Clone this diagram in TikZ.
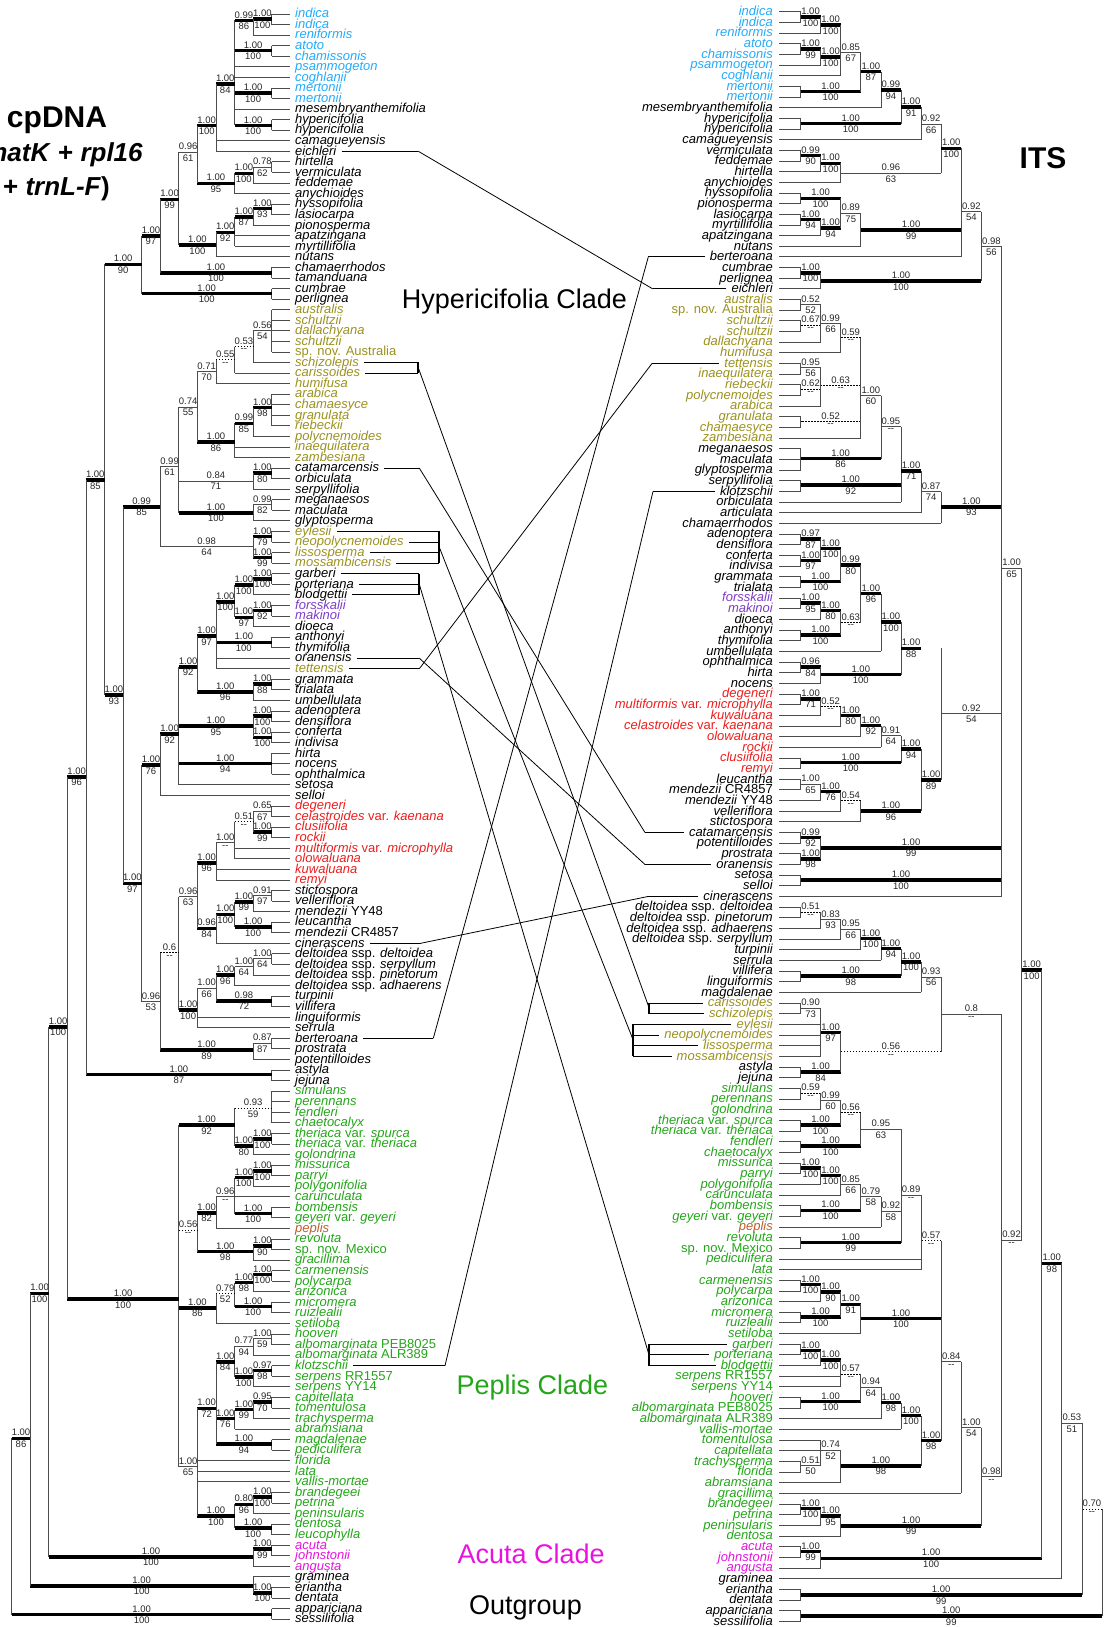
\documentclass[tikz,border=0pt]{standalone}
\usepackage{fontspec}
\setmainfont{Liberation Sans}
\usepackage{etoolbox}
\usetikzlibrary{calc}

\definecolor{xb}{RGB}{35,170,250}
\definecolor{xo}{RGB}{155,145,30}
\definecolor{xp}{RGB}{125,60,200}
\definecolor{xr}{RGB}{235,30,30}
\definecolor{xg}{RGB}{35,165,25}
\definecolor{xn}{RGB}{185,95,45}
\definecolor{xm}{RGB}{230,20,220}
\colorlet{xk}{black}

\tikzset{
  thn/.style={draw=black!70,line width=0.8pt},
  thk/.style={draw=black,line width=3.6pt},
  dsh/.style={draw=black,line width=0.8pt,dash pattern=on 1.5pt off 1.5pt},
  cnx/.style={draw=black,line width=0.8pt},
  brk/.style={draw=black,line width=2pt},
  sup/.style={font=\fontsize{9.5}{9.5}\selectfont,text=black!85,inner sep=0pt},
  taxL/.style={anchor=base west,inner sep=0pt,font=\fontsize{13}{13}\selectfont\itshape},
  taxR/.style={anchor=base east,inner sep=0pt,font=\fontsize{13}{13}\selectfont\itshape},
  big/.style={inner sep=0pt,anchor=base west,font=\fontsize{27}{27}\selectfont},
  ttl/.style={inner sep=0pt,font=\fontsize{30}{30}\selectfont\bfseries},
}

\newcommand\up[1]{\textup{#1}}
% tree frame: x of column 0, column step, y of row 1, row step, x of leaf ends
\newcommand\setT[5]{\def\Tx{#1}\def\Tdx{#2}\def\Ty{#3}\def\Tdy{#4}\def\Tlf{#5}}
\newcommand\upd[1]{\pgfmathsetmacro\Ymn{min(\Ymn,#1)}\pgfmathsetmacro\Ymx{max(\Ymx,#1)}%
  \pgfmathsetmacro\Ysm{\Ysm+#1}\pgfmathsetmacro\Ycn{\Ycn+1}}
\newcommand\dolf[1]{\pgfmathsetmacro\Yy{\Ty+\Tdy*(#1-1)}\upd{\Yy}\draw[thn] (\Nx,\Yy) -- (\Tlf,\Yy);}
\newcommand\dosb[1]{\edef\Yy{\csname ny@#1\endcsname}\upd{\Yy}}
% \nd[stem]{name}{col}{parent col}{leaf rows}{child clades}{y}{above}{below}
\newcommand\nd[9][thn]{%
  \pgfmathsetmacro\Nx{\Tx+\Tdx*#3}\pgfmathsetmacro\Px{\Tx+\Tdx*#4}%
  \def\Ymn{9999}\def\Ymx{-9999}\def\Ysm{0}\def\Ycn{0}%
  \forcsvlist\dolf{#5}\forcsvlist\dosb{#6}%
  \if\relax\detokenize{#7}\relax\pgfmathsetmacro\Ny{\Ysm/\Ycn}\else\def\Ny{#7}\fi
  \expandafter\xdef\csname ny@#2\endcsname{\Ny}%
  \draw[thn] (\Nx,\Ymn) -- (\Nx,\Ymx);
  \draw[#1] (\Px,\Ny) -- (\Nx,\Ny);
  \coordinate (#2) at (\Nx,\Ny);
  \node[sup,anchor=south] at ({(\Px+\Nx)/2},{\Ny-2.2}) {#8};
  \node[sup,anchor=north] at ({(\Px+\Nx)/2},{\Ny+2.2}) {#9};}
% \link{left first}{left last}{right first}{right last}{left bend x}{right bend x}
\newcommand\link[6]{%
  \foreach \k in {#1,...,#2}{\draw[cnx] ($(Lt\k.east |- la\k)+(5,0)$) -- ($(la\k)+({#5-290},0)$);}
  \ifnum#1<#2 \draw[brk] ($(la#1)+({#5-290},0)$) -- ($(la#2)+({#5-290},0)$);\fi
  \ifnum#3<#4 \draw[brk] ($(ra#3)+({#6-779.3},0)$) -- ($(ra#4)+({#6-779.3},0)$);\fi
  \coordinate (lk1) at ($(la#1)!0.5!(la#2)+({#5-290},0)$);
  \coordinate (lk2) at ($(ra#3)!0.5!(ra#4)+({#6-779.3},0)$);
  \draw[cnx] (lk1) -- (lk2);
  \foreach \k in {#3,...,#4}{\draw[cnx] ($(ra\k)+({#6-779.3},0)$) -- ($(Rt\k.west |- ra\k)+(-5,0)$);}}

\begin{document}
\begin{tikzpicture}[x=1pt,y=-1pt]
\useasboundingbox (0,0) rectangle (1107,1627);

% cpDNA taxa
\foreach \c/\t [count=\r] in {xb/indica, xb/indica, xb/reniformis, xb/atoto, xb/chamissonis, xb/psammogeton, xb/coghlanii, xb/mertonii, xb/mertonii, xk/mesembryanthemifolia,
 xk/hypericifolia, xk/hypericifolia, xk/camagueyensis, xk/eichleri, xk/hirtella, xk/vermiculata, xk/feddemae, xk/anychioides, xk/hyssopifolia, xk/lasiocarpa,
 xk/pionosperma, xk/apatzingana, xk/myrtillifolia, xk/nutans, xk/chamaerrhodos, xk/tamanduana, xk/cumbrae, xk/perlignea, xo/australis, xo/schultzii,
 xo/dallachyana, xo/schultzii, xo/\up{sp. nov. Australia}, xo/schizolepis, xo/carissoides, xo/humifusa, xo/arabica, xo/chamaesyce, xo/granulata, xo/riebeckii,
 xo/polycnemoides, xo/inaequilatera, xo/zambesiana, xk/catamarcensis, xk/orbiculata, xk/serpyllifolia, xk/meganaesos, xk/maculata, xk/glyptosperma, xo/eylesii,
 xo/neopolycnemoides, xo/lissosperma, xo/mossambicensis, xk/garberi, xk/porteriana, xk/blodgettii, xp/forsskalii, xp/makinoi, xk/dioeca, xk/anthonyi,
 xk/thymifolia, xk/oranensis, xo/tettensis, xk/grammata, xk/trialata, xk/umbellulata, xk/adenoptera, xk/densiflora, xk/conferta, xk/indivisa,
 xk/hirta, xk/nocens, xk/ophthalmica, xk/setosa, xk/selloi, xr/degeneri, xr/celastroides \up{var.} kaenana, xr/clusiifolia, xr/rockii, xr/multiformis \up{var.} microphylla,
 xr/olowaluana, xr/kuwaluana, xr/remyi, xk/stictospora, xk/velleriflora, xk/mendezii \up{YY48}, xk/leucantha, xk/mendezii \up{CR4857}, xk/cinerascens, xk/deltoidea \up{ssp.} deltoidea,
 xk/deltoidea \up{ssp.} serpyllum, xk/deltoidea \up{ssp.} pinetorum, xk/deltoidea \up{ssp.} adhaerens, xk/turpinii, xk/villifera, xk/linguiformis, xk/serrula, xk/berteroana, xk/prostrata, xk/potentilloides,
 xk/astyla, xk/jejuna, xg/simulans, xg/perennans, xg/fendleri, xg/chaetocalyx, xg/theriaca \up{var.} spurca, xg/theriaca \up{var.} theriaca, xg/golondrina, xg/missurica,
 xg/parryi, xg/polygonifolia, xg/carunculata, xg/bombensis, xg/geyeri \up{var.} geyeri, xn/peplis, xg/revoluta, xg/\up{sp. nov. Mexico}, xg/gracillima, xg/carmenensis,
 xg/polycarpa, xg/arizonica, xg/micromera, xg/ruizlealii, xg/setiloba, xg/hooveri, xg/albomarginata \up{PEB8025}, xg/albomarginata \up{ALR389}, xg/klotzschii, xg/serpens \up{RR1557},
 xg/serpens \up{YY14}, xg/capitellata, xg/tomentulosa, xg/trachysperma, xg/abramsiana, xg/magdalenae, xg/pediculifera, xg/florida, xg/lata, xg/vallis-mortae,
 xg/brandegeei, xg/petrina, xg/peninsularis, xg/dentosa, xg/leucophylla, xm/acuta, xm/johnstonii, xm/angusta, xk/graminea, xk/eriantha,
 xk/dentata, xk/appariciana, xk/sessilifolia}{
  \pgfmathsetmacro\yy{14+10.56*(\r-1)}
  \coordinate (la\r) at (290,\yy);
  \node[taxL,text=\c] (Lt\r) at (295,{\yy+3.8}) {\t};
}

% ITS taxa
\foreach \c/\t [count=\r] in {xb/indica, xb/indica, xb/reniformis, xb/atoto, xb/chamissonis, xb/psammogeton, xb/coghlanii, xb/mertonii, xb/mertonii, xk/mesembryanthemifolia,
 xk/hypericifolia, xk/hypericifolia, xk/camagueyensis, xk/vermiculata, xk/feddemae, xk/hirtella, xk/anychioides, xk/hyssopifolia, xk/pionosperma, xk/lasiocarpa,
 xk/myrtillifolia, xk/apatzingana, xk/nutans, xk/berteroana, xk/cumbrae, xk/perlignea, xk/eichleri, xo/australis, xo/\up{sp. nov. Australia}, xo/schultzii,
 xo/schultzii, xo/dallachyana, xo/humifusa, xo/tettensis, xo/inaequilatera, xo/riebeckii, xo/polycnemoides, xo/arabica, xo/granulata, xo/chamaesyce,
 xo/zambesiana, xk/meganaesos, xk/maculata, xk/glyptosperma, xk/serpyllifolia, xk/klotzschii, xk/orbiculata, xk/articulata, xk/chamaerrhodos, xk/adenoptera,
 xk/densiflora, xk/conferta, xk/indivisa, xk/grammata, xk/trialata, xp/forsskalii, xp/makinoi, xk/dioeca, xk/anthonyi, xk/thymifolia,
 xk/umbellulata, xk/ophthalmica, xk/hirta, xk/nocens, xr/degeneri, xr/multiformis \up{var.} microphylla, xr/kuwaluana, xr/celastroides \up{var.} kaenana, xr/olowaluana, xr/rockii,
 xr/clusiifolia, xr/remyi, xk/leucantha, xk/mendezii \up{CR4857}, xk/mendezii \up{YY48}, xk/velleriflora, xk/stictospora, xk/catamarcensis, xk/potentilloides, xk/prostrata,
 xk/oranensis, xk/setosa, xk/selloi, xk/cinerascens, xk/deltoidea \up{ssp.} deltoidea, xk/deltoidea \up{ssp.} pinetorum, xk/deltoidea \up{ssp.} adhaerens, xk/deltoidea \up{ssp.} serpyllum, xk/turpinii, xk/serrula,
 xk/villifera, xk/linguiformis, xk/magdalenae, xo/carissoides, xo/schizolepis, xo/eylesii, xo/neopolycnemoides, xo/lissosperma, xo/mossambicensis, xk/astyla,
 xk/jejuna, xg/simulans, xg/perennans, xg/golondrina, xg/theriaca \up{var.} spurca, xg/theriaca \up{var.} theriaca, xg/fendleri, xg/chaetocalyx, xg/missurica, xg/parryi,
 xg/polygonifolia, xg/carunculata, xg/bombensis, xg/geyeri \up{var.} geyeri, xn/peplis, xg/revoluta, xg/\up{sp. nov. Mexico}, xg/pediculifera, xg/lata, xg/carmenensis,
 xg/polycarpa, xg/arizonica, xg/micromera, xg/ruizlealii, xg/setiloba, xg/garberi, xg/porteriana, xg/blodgettii, xg/serpens \up{RR1557}, xg/serpens \up{YY14},
 xg/hooveri, xg/albomarginata \up{PEB8025}, xg/albomarginata \up{ALR389}, xg/vallis-mortae, xg/tomentulosa, xg/capitellata, xg/trachysperma, xg/florida, xg/abramsiana, xg/gracillima,
 xg/brandegeei, xg/petrina, xg/peninsularis, xg/dentosa, xm/acuta, xm/johnstonii, xm/angusta, xk/graminea, xk/eriantha, xk/dentata,
 xk/appariciana, xk/sessilifolia}{
  \pgfmathsetmacro\yy{11.7+10.66*(\r-1)}
  \coordinate (ra\r) at (779.3,\yy);
  \node[taxR,text=\c] (Rt\r) at (773,{\yy+3.8}) {\t};
}

% cpDNA tree
\setT{271.7}{-18.57}{14}{10.56}{290}
\nd[thk]{A1}{0}{1}{1,2}{}{19.3}{1.00}{100}
\nd[thk]{A2}{1}{2}{3}{A1}{20.5}{0.99}{86}
\nd[thk]{A3}{0}{2}{4,5}{}{50.5}{1.00}{100}
\nd[thk]{A4}{0}{2}{8,9}{}{93}{1.00}{100}
\nd[thk]{A5}{0}{2}{11,12}{}{125.5}{1.00}{100}
\nd[thk]{A6}{2}{3}{6,7,10}{A2,A3,A4,A5}{84}{1.00}{84}
\nd[thk]{A7}{3}{4}{13,14}{A6}{125.7}{1.00}{100}
\nd{B1}{0}{1}{15,16}{}{167}{0.78}{62}
\nd[thk]{B2}{1}{2}{17}{B1}{173.3}{1.00}{100}
\nd[thk]{B3}{2}{4}{18}{B2}{183.3}{1.00}{95}
\nd{C}{4}{5}{}{A7,B3}{152}{0.96}{61}
\nd[thk]{B4}{0}{1}{19,20}{}{208.5}{1.00}{93}
\nd[thk]{B5}{1}{2}{21}{B4}{216.7}{1.00}{87}
\nd[thk]{B6}{2}{3}{22,23}{B5}{232.3}{1.00}{92}
\nd[thk]{B7}{3}{5}{24}{B6}{245}{1.00}{100}
\nd[thk]{D}{5}{6}{}{C,B7}{199.3}{1.00}{99}
\nd[thk]{E1}{0}{6}{25,26}{}{272.7}{1.00}{100}
\nd[thk]{F}{6}{7}{}{D,E1}{235.7}{1.00}{97}
\nd[thk]{E2}{0}{7}{27,28}{}{293.6}{1.00}{100}
\nd[thk]{G}{7}{9}{}{F,E2}{264.3}{1.00}{90}
\nd{J1}{0}{1}{29,30,31,32,33}{}{330.8}{0.56}{54}
\nd[dsh]{J2}{1}{2}{34}{J1}{346.6}{0.53}{-{}-}
\nd[dsh]{J3}{2}{3}{35}{J2}{359.8}{0.55}{-{}-}
\nd{J4}{3}{4}{36}{J3}{371.7}{0.71}{70}
\nd[thk]{K1}{0}{1}{37,38,39,40}{}{407.5}{1.00}{98}
\nd[thk]{K2}{1}{2}{41}{K1}{423.3}{0.99}{85}
\nd[thk]{K3}{2}{4}{42,43}{K2}{442}{1.00}{86}
\nd{L1}{4}{5}{}{J4,K3}{407}{0.74}{55}
\nd[thk]{M1}{0}{1}{44,45}{}{473}{1.00}{80}
\nd{M2}{1}{5}{46}{M1}{481}{0.84}{71}
\nd{N1}{0}{1}{47,48}{}{504.5}{0.99}{82}
\nd[thk]{N2}{1}{5}{49}{N1}{512.7}{1.00}{100}
\nd{O}{5}{6}{}{L1,M2,N2}{466.7}{0.99}{61}
\nd[thk]{P1}{0}{1}{50,51}{}{536.5}{1.00}{79}
\nd[thk]{P2}{0}{1}{52,53}{}{557.5}{1.00}{99}
\nd{P3}{1}{6}{}{P1,P2}{546.7}{0.98}{64}
\nd[thk]{Q}{6}{8}{}{O,P3}{506.7}{0.99}{85}
\nd[thk]{R1}{0}{1}{54,55}{}{578.7}{1.00}{100}
\nd[thk]{R2}{1}{2}{56}{R1}{585}{1.00}{100}
\nd[thk]{R3}{0}{1}{57,58}{}{610.5}{1.00}{92}
\nd[thk]{R4}{1}{2}{59}{R3}{617.3}{1.00}{97}
\nd[thk]{R5}{2}{3}{}{R2,R4}{601.7}{1.00}{100}
\nd[thk]{S1}{0}{3}{60,61}{}{642.3}{1.00}{100}
\nd[thk]{S2}{3}{4}{62,63}{R5,S1}{636}{1.00}{97}
\nd[thk]{T1}{0}{1}{64,65}{}{684}{1.00}{88}
\nd[thk]{T2}{1}{4}{66}{T1}{691.7}{1.00}{96}
\nd[thk]{T3}{4}{5}{}{S2,T2}{666.7}{1.00}{92}
\nd[thk]{U1}{0}{1}{67,68}{}{716}{1.00}{100}
\nd[thk]{U2}{0}{1}{69,70}{}{737.3}{1.00}{100}
\nd[thk]{U3}{1}{5}{}{U1,U2}{726}{1.00}{95}
\nd[thk]{U4}{0}{5}{71,72,73}{}{763.5}{1.00}{94}
\nd[thk]{V}{5}{6}{74}{T3,U3,U4}{734}{1.00}{92}
\nd[thk]{W}{6}{7}{75}{V}{765}{1.00}{76}
\nd{Z1}{0}{1}{76,77}{}{811}{0.65}{67}
\nd[thk]{Z2}{0}{1}{78,79}{}{832.2}{1.00}{99}
\nd[dsh]{Z3}{1}{2}{}{Z1,Z2}{821.7}{0.51}{-{}-}
\nd{Z4}{2}{3}{80,81}{Z3}{842.7}{1.00}{-{}-}
\nd[thk]{Z5}{3}{4}{82,83}{Z4}{862.7}{1.00}{96}
\nd{Z6a}{0}{1}{84,85}{}{895.5}{0.91}{97}
\nd[thk]{Z6b}{1}{2}{86}{Z6a}{901.7}{1.00}{99}
\nd[thk]{Z6c}{0}{2}{87,88}{}{927}{1.00}{100}
\nd[thk]{Z6d}{2}{3}{}{Z6b,Z6c}{914.3}{1.00}{100}
\nd[thk]{Z6e}{3}{4}{89}{Z6d}{928.3}{0.96}{84}
\nd{Z7}{4}{5}{}{Z5,Z6e}{896.7}{0.96}{63}
\nd{d1}{0}{1}{90,91}{}{958.7}{1.00}{64}
\nd{d2}{1}{2}{92}{d1}{966.7}{1.00}{64}
\nd[thk]{d3}{2}{3}{93}{d2}{975}{1.00}{96}
\nd[thk]{d4}{0}{3}{94,95}{}{1000.7}{0.98}{72}
\nd{d5}{3}{4}{}{d3,d4}{988.3}{1.00}{66}
\nd[thk]{d6}{4}{5}{96,97}{d5}{1010}{1.00}{100}
\nd[dsh]{Z8}{5}{6}{}{Z7,d6}{952.7}{0.6}{-{}-}
\nd{b1}{0}{1}{98,99}{}{1043}{0.87}{87}
\nd[thk]{b2}{1}{6}{100}{b1}{1050}{1.00}{89}
\nd{Y}{6}{7}{}{Z8,b2}{1001.7}{0.96}{53}
\nd[thk]{X}{7}{8}{}{W,Y}{883.3}{1.00}{97}
\nd[thk]{I}{8}{9}{}{Q,X}{695}{1.00}{93}
\nd[thk]{H}{9}{10}{}{G,I}{480}{1.00}{85}
\nd[thk]{a1}{0}{10}{101,102}{}{1074.5}{1.00}{87}
\nd[thk]{H2}{10}{11}{}{H,a1}{776.7}{1.00}{96}
\nd[dsh]{p1}{0}{2}{103,104,105,106}{}{1108}{0.93}{59}
\nd[thk]{p2}{0}{1}{107,108}{}{1139}{1.00}{100}
\nd[thk]{p3}{1}{2}{109}{p2}{1146}{1.00}{80}
\nd[thk]{p4}{2}{5}{}{p1,p3}{1125}{1.00}{92}
\nd[thk]{p5}{0}{1}{110,111}{}{1171}{1.00}{100}
\nd[thk]{p6}{1}{2}{112}{p5}{1177.5}{1.00}{100}
\nd[thk]{p7}{0}{2}{114,115}{}{1213.5}{1.00}{100}
\nd{p8}{2}{3}{113}{p6,p7}{1196.7}{0.96}{-{}-}
\nd[thk]{p9}{3}{4}{116}{p8}{1212.7}{1.00}{82}
\nd[thk]{p10}{0}{1}{117,118}{}{1246}{1.00}{90}
\nd[thk]{p11}{1}{4}{119}{p10}{1251.5}{1.00}{98}
\nd[dsh]{p12}{4}{5}{}{p9,p11}{1230}{0.56}{-{}-}
\nd[thk]{q1}{0}{1}{120,121}{}{1274.5}{1.00}{100}
\nd[thk]{q2}{1}{2}{122}{q1}{1282.5}{1.00}{98}
\nd[thk]{q3}{0}{2}{123,124}{}{1306.5}{1.00}{100}
\nd[dsh]{q4}{2}{3}{}{q2,q3}{1293.5}{0.79}{52}
\nd[thk]{q5}{3}{5}{125}{q4}{1307.7}{1.00}{86}
\nd{r1}{0}{1}{126,127}{}{1338.5}{1.00}{59}
\nd{r2}{1}{2}{128}{r1}{1346}{0.77}{94}
\nd[thk]{r3}{0}{1}{129,130}{}{1370.5}{0.97}{98}
\nd[thk]{r4}{1}{2}{131}{r3}{1377}{1.00}{100}
\nd[thk]{r5}{2}{3}{}{r2,r4}{1361.7}{1.00}{84}
\nd[thk]{r6}{0}{1}{132,133}{}{1402}{0.95}{70}
\nd[thk]{r7}{1}{2}{134}{r6}{1409.5}{1.00}{99}
\nd[thk]{r8}{2}{3}{135}{r7}{1418.5}{1.00}{76}
\nd[thk]{r9}{0}{3}{136,137}{}{1444}{1.00}{94}
\nd[thk]{r10}{3}{4}{}{r5,r8,r9}{1408.3}{1.00}{72}
\nd[thk]{r11}{0}{1}{141,142}{}{1497}{1.00}{100}
\nd[thk]{r12}{1}{2}{143}{r11}{1504.3}{0.80}{96}
\nd[thk]{r13}{0}{2}{144,145}{}{1528}{1.00}{100}
\nd[thk]{r14}{2}{4}{}{r12,r13}{1516}{1.00}{100}
\nd{r}{4}{5}{138,139,140}{r10,r14}{1466.7}{1.00}{65}
\nd[thk]{PP}{5}{11}{}{p4,p12,q5,r}{1299}{1.00}{100}
\nd[thk]{K11}{11}{12}{}{H2,PP}{1026.7}{1.00}{100}
\nd[thk]{ac1}{0}{1}{146,147}{}{1549}{1.00}{99}
\nd[thk]{ac2}{1}{12}{148}{ac1}{1556.7}{1.00}{100}
\nd[thk]{K12}{12}{13}{}{K11,ac2}{1293.3}{1.00}{100}
\nd[thk]{og1}{0}{1}{150,151}{}{1592.7}{1.00}{100}
\nd[thk]{og2}{1}{13}{149}{og1}{1585.7}{1.00}{100}
\nd[thk]{K13}{13}{14}{}{K12,og2}{1438.3}{1.00}{86}
\nd[thk]{og3}{0}{14}{152,153}{}{1614.5}{1.00}{100}
\nd{root}{14}{14}{}{K13,og3}{}{}{}

% ITS tree
\setT{800.5}{20.1}{11.7}{10.66}{779.3}
\nd[thk]{RA1}{0}{1}{1,2}{}{17}{1.00}{100}
\nd[thk]{RA2}{1}{2}{3}{RA1}{25}{1.00}{100}
\nd[thk]{RA3}{0}{1}{4,5}{}{49}{1.00}{99}
\nd[thk]{RA4}{1}{2}{6}{RA3}{57.3}{1.00}{100}
\nd{RA5}{2}{3}{7}{RA2,RA4}{52.7}{0.85}{67}
\nd[thk]{RA6}{0}{3}{8,9}{}{91.7}{1.00}{100}
\nd[thk]{RA7}{3}{4}{}{RA5,RA6}{71.7}{1.00}{87}
\nd[thk]{RA8}{4}{5}{10}{RA7}{90}{0.99}{94}
\nd[thk]{RA9}{0}{5}{11,12}{}{123.7}{1.00}{100}
\nd[thk]{RA10}{5}{6}{}{RA8,RA9}{107.3}{1.00}{91}
\nd{RA11}{6}{7}{13}{RA10}{124}{0.92}{66}
\nd[thk]{RB1}{0}{1}{14,15}{}{155.6}{0.99}{90}
\nd[thk]{RB2}{1}{2}{16}{RB1}{163.3}{1.00}{100}
\nd{RB3}{2}{7}{17}{RB2}{173.3}{0.96}{63}
\nd[thk]{RA12}{7}{8}{}{RA11,RB3}{148.3}{1.00}{100}
\nd[thk]{RC1}{0}{2}{18,19}{}{198.3}{1.00}{100}
\nd[thk]{RC2}{0}{1}{20,21}{}{219.6}{1.00}{94}
\nd[thk]{RC3}{1}{2}{22}{RC2}{228}{1.00}{94}
\nd{RC4}{2}{3}{}{RC1,RC3}{213.3}{0.89}{75}
\nd[thk]{RC5}{3}{8}{23}{RC4}{230}{1.00}{99}
\nd{RA13}{8}{9}{24}{RA12,RC5}{211.7}{0.92}{54}
\nd[thk]{RD1}{0}{1}{25,26}{}{272.8}{1.00}{100}
\nd[thk]{RD2}{1}{9}{27}{RD1}{281}{1.00}{100}
\nd{RA14}{9}{10}{}{RA13,RD2}{246.7}{0.98}{56}
\nd{Ro1}{0}{1}{28,29}{}{304.8}{0.52}{52}
\nd[dsh]{Ro2}{0}{1}{30,31}{}{325}{0.67}{-{}-}
\nd{Ro3}{1}{2}{32}{Ro1,Ro2}{323.5}{0.99}{66}
\nd[dsh]{Ro4}{2}{3}{33}{Ro3}{337.5}{0.59}{-{}-}
\nd{Ro5}{0}{1}{34,35}{}{367.5}{0.95}{56}
\nd[dsh]{Ro6}{0}{1}{36,37}{}{389}{0.62}{-{}-}
\nd[dsh]{Ro7}{1}{3}{38}{Ro5,Ro6}{385.7}{0.63}{-{}-}
\nd[dsh]{Ro8}{0}{3}{39,40}{}{421.5}{0.52}{-{}-}
\nd{Ro9}{3}{4}{41}{Ro4,Ro7,Ro8}{395.7}{1.00}{60}
\nd[thk]{Ro10}{0}{4}{42,43,44}{}{458.5}{1.00}{86}
\nd{Ro11}{4}{5}{}{Ro9,Ro10}{426.7}{0.95}{-{}-}
\nd[thk]{Ro12}{0}{5}{45,46}{}{485}{1.00}{92}
\nd[thk]{Ro13}{5}{6}{47}{Ro11,Ro12}{470.8}{1.00}{71}
\nd{Ro14}{6}{7}{48}{Ro13}{491.5}{0.87}{74}
\nd[thk]{Ro15}{7}{10}{49}{Ro14}{506.9}{1.00}{93}
\nd[thk]{Rs1}{0}{1}{50,51}{}{539}{0.97}{87}
\nd[thk]{Rs2}{0}{1}{52,53}{}{560.5}{1.00}{97}
\nd[thk]{Rs3}{1}{2}{}{Rs1,Rs2}{548.5}{1.00}{100}
\nd[thk]{Rs4}{0}{2}{54,55}{}{581.5}{1.00}{100}
\nd[thk]{Rs5}{2}{3}{}{Rs3,Rs4}{565}{0.99}{80}
\nd[thk]{Rs6}{0}{1}{56,57}{}{603}{1.00}{95}
\nd[thk]{Rs7}{1}{2}{58}{Rs6}{610.5}{1.00}{80}
\nd[thk]{Rs8}{0}{2}{59,60}{}{635}{1.00}{100}
\nd[dsh]{Rs9}{2}{3}{}{Rs7,Rs8}{622.5}{0.63}{-{}-}
\nd[thk]{Rs10}{3}{4}{}{Rs5,Rs9}{593.5}{1.00}{96}
\nd[thk]{Rs11}{4}{5}{61}{Rs10}{622}{1.00}{100}
\nd[thk]{Rs12}{0}{1}{62,63}{}{667}{0.96}{84}
\nd[thk]{Rs13}{1}{5}{64}{Rs12}{674.5}{1.00}{100}
\nd[thk]{Rs14}{5}{6}{}{Rs11,Rs13}{648.3}{1.00}{88}
\nd[thk]{Rr1}{0}{1}{65,66}{}{699}{1.00}{71}
\nd[dsh]{Rr2}{1}{2}{67}{Rr1}{706.5}{0.52}{-{}-}
\nd[thk]{Rr3}{2}{3}{68}{Rr2}{715.5}{1.00}{80}
\nd[thk]{Rr4}{3}{4}{69}{Rr3}{725.5}{1.00}{92}
\nd{Rr5}{4}{5}{70}{Rr4}{735.8}{0.91}{64}
\nd[thk]{Rr6}{0}{5}{71,72}{}{762.5}{1.00}{100}
\nd[thk]{Rr7}{5}{6}{}{Rr5,Rr6}{749.2}{1.00}{94}
\nd{Rm1}{0}{1}{73,74}{}{784.2}{1.00}{65}
\nd[thk]{Rm2}{1}{2}{75}{Rm1}{791.5}{1.00}{76}
\nd[dsh]{Rm3}{2}{3}{76}{Rm2}{800.8}{0.54}{-{}-}
\nd[thk]{Rm4}{3}{6}{77}{Rm3}{811}{1.00}{96}
\nd[thk]{Rr8}{6}{7}{}{Rr7,Rm4}{780.1}{1.00}{89}
\nd{Rs15}{7}{10}{}{Rs14,Rr8}{713.5}{0.92}{54}
\nd[thk]{Rc1}{0}{1}{78,79}{}{837.5}{0.99}{92}
\nd[thk]{Rc2}{0}{1}{80,81}{}{858.8}{1.00}{98}
\nd[thk]{Rc3}{1}{10}{}{Rc1,Rc2}{847.8}{1.00}{99}
\nd[thk]{Rc4}{0}{10}{82,83}{}{880}{1.00}{100}
\nd{RX}{10}{11}{84}{RA14,Ro15,Rs15,Rc3,Rc4}{568.3}{1.00}{65}
\nd[dsh]{Rd1}{0}{1}{85,86}{}{912}{0.51}{-{}-}
\nd{Rd2}{1}{2}{87}{Rd1}{919.5}{0.83}{93}
\nd{Rd3}{2}{3}{88}{Rd2}{929}{0.95}{66}
\nd[thk]{Rd4}{3}{4}{89}{Rd3}{938.5}{1.00}{100}
\nd[thk]{Rd5}{4}{5}{90}{Rd4}{948.5}{1.00}{94}
\nd[thk]{Rd6}{0}{5}{91,92}{}{976}{1.00}{98}
\nd[thk]{Rd7}{5}{6}{}{Rd5,Rd6}{961.7}{1.00}{100}
\nd{Rd8}{6}{7}{93}{Rd7}{976.9}{0.93}{56}
\nd{Re1}{0}{1}{94,95}{}{1008}{0.90}{73}
\nd[thk]{Re2}{1}{2}{96,97,98,99}{Re1}{1032.5}{1.00}{97}
\nd[thk]{Re3}{0}{2}{100,101}{}{1072}{1.00}{84}
\nd[dsh]{Re4}{2}{7}{}{Re2,Re3}{1051.7}{0.56}{-{}-}
\nd{Rd9}{7}{10}{}{Rd8,Re4}{1014.2}{0.8}{-{}-}
\nd[dsh]{Rp1}{0}{1}{102,103}{}{1093.3}{0.59}{-{}-}
\nd{Rp2}{1}{2}{104}{Rp1}{1100.5}{0.99}{60}
\nd[thk]{Rp3}{0}{2}{105,106}{}{1125}{1.00}{100}
\nd[dsh]{Rp4}{2}{3}{}{Rp2,Rp3}{1112.5}{0.56}{-{}-}
\nd[thk]{Rp5}{0}{3}{107,108}{}{1146.2}{1.00}{100}
\nd{Rp6}{3}{5}{}{Rp4,Rp5}{1129.3}{0.95}{63}
\nd[thk]{Rp7}{0}{1}{109,110}{}{1168}{1.00}{100}
\nd[thk]{Rp8}{1}{2}{111}{Rp7}{1175.5}{1.00}{100}
\nd{Rp9}{2}{3}{112}{Rp8}{1184.5}{0.85}{66}
\nd[thk]{Rp10}{0}{3}{113,114}{}{1210.3}{1.00}{100}
\nd{Rp11}{3}{4}{}{Rp9,Rp10}{1196.7}{0.79}{58}
\nd{Rp12}{4}{5}{115}{Rp11}{1211.2}{0.92}{58}
\nd[thk]{Rp13}{0}{5}{116,117}{}{1242.5}{1.00}{99}
\nd{Rp14}{5}{6}{}{Rp6,Rp12,Rp13}{1195}{0.89}{-{}-}
\nd[dsh]{Rp15}{6}{7}{118,119}{Rp14}{1240.8}{0.57}{-{}-}
\nd[thk]{Rq1}{0}{1}{120,121}{}{1284.5}{1.00}{100}
\nd[thk]{Rq2}{1}{2}{122}{Rq1}{1292}{1.00}{90}
\nd[thk]{Rq3}{0}{2}{123,124}{}{1317}{1.00}{100}
\nd[thk]{Rq4}{2}{3}{}{Rq2,Rq3}{1304.3}{1.00}{91}
\nd[thk]{Rq5}{3}{7}{125}{Rq4}{1318.6}{1.00}{100}
\nd[thk]{Rg1}{0}{1}{126,127}{}{1350.5}{1.00}{100}
\nd[thk]{Rg2}{1}{2}{128}{Rg1}{1360}{1.00}{100}
\nd[dsh]{Rg3}{2}{3}{129,130}{Rg2}{1374.2}{0.57}{-{}-}
\nd[thk]{Rg4}{0}{3}{131,132}{}{1401.5}{1.00}{100}
\nd{Rg5}{3}{4}{}{Rg3,Rg4}{1387}{0.94}{64}
\nd[thk]{Rg6}{4}{5}{133}{Rg5}{1402.6}{1.00}{98}
\nd[thk]{Rg7}{5}{6}{134}{Rg6}{1415.5}{1.00}{100}
\nd{Rt1}{0}{1}{137,138}{}{1465.5}{0.51}{50}
\nd{Rt2}{1}{2}{135,136}{Rt1}{1450}{0.74}{52}
\nd[thk]{Rt3}{2}{6}{139}{Rt2}{1465.8}{1.00}{98}
\nd[thk]{Rg8}{6}{7}{}{Rg7,Rt3}{1440.5}{1.00}{98}
\nd{Rp16}{7}{8}{}{Rp15,Rq5,Rg8}{1361.7}{0.84}{-{}-}
\nd{Rp17}{8}{9}{140}{Rp16}{1427.5}{1.00}{54}
\nd[thk]{Rb1}{0}{1}{141,142}{}{1508.5}{1.00}{100}
\nd[thk]{Rb2}{1}{2}{143}{Rb1}{1516}{1.00}{95}
\nd[thk]{Rb3}{2}{9}{144}{Rb2}{1525.8}{1.00}{99}
\nd{Rpp}{9}{10}{}{Rp17,Rb3}{1476.7}{0.98}{-{}-}
\nd{RY}{10}{11}{}{Rd9,Rpp}{1240}{0.92}{-{}-}
\nd[thk]{RZ}{11}{12}{}{RX,RY}{970}{1.00}{100}
\nd[thk]{Rac1}{0}{1}{145,146}{}{1551.5}{1.00}{99}
\nd[thk]{Rac2}{1}{12}{147}{Rac1}{1558.3}{1.00}{100}
\nd[thk]{RW}{12}{13}{}{RZ,Rac2}{1263.3}{1.00}{98}
\nd{RV}{13}{14}{148}{RW}{1423.3}{0.53}{51}
\nd[thk]{Rog1}{0}{14}{149,150}{}{1595}{1.00}{99}
\nd[dsh]{RU}{14}{15}{}{RV,Rog1}{1509.3}{0.70}{-{}-}
\nd[thk]{Rog2}{0}{15}{151,152}{}{1616}{1.00}{99}
\nd{Rroot}{15}{15}{}{RU,Rog2}{}{}{}

% links between the trees
\link{14}{14}{27}{27}{418.3}{652.7}
\link{34}{35}{94}{95}{418.3}{649.3}
\link{44}{44}{78}{78}{419.3}{645}
\link{50}{53}{96}{99}{439.3}{633.3}
\link{54}{56}{126}{128}{419.3}{649}
\link{62}{62}{81}{81}{419.3}{645}
\link{63}{63}{34}{34}{419.3}{652}
\link{89}{89}{84}{84}{420.7}{648}
\link{98}{98}{24}{24}{433.3}{648.3}
\link{129}{129}{46}{46}{445}{653}

% titles
\node[ttl,anchor=base] (cpd) at (57,128) {cpDNA};
\node[inner sep=0pt,anchor=base east,font=\fontsize{26}{26}\selectfont\bfseries] (cpm) at (143,161.7) {(\textit{matK} + \textit{rpl16}};
\node[inner sep=0pt,anchor=base east,font=\fontsize{26}{26}\selectfont\bfseries] (cpt) at (110,195) {+ \textit{trnL-F})};
\node[ttl,anchor=base] (its) at (1043,168.3) {ITS};
\node[big] (hyp) at (401.7,308.3) {Hypericifolia Clade};
\node[big,text=xg] (pep) at (456.5,1394) {Peplis Clade};
\node[big,text=xm] (acu) at (457.5,1563.3) {Acuta Clade};
\node[big] (outg) at (469,1614) {Outgroup};
\end{tikzpicture}
\end{document}
